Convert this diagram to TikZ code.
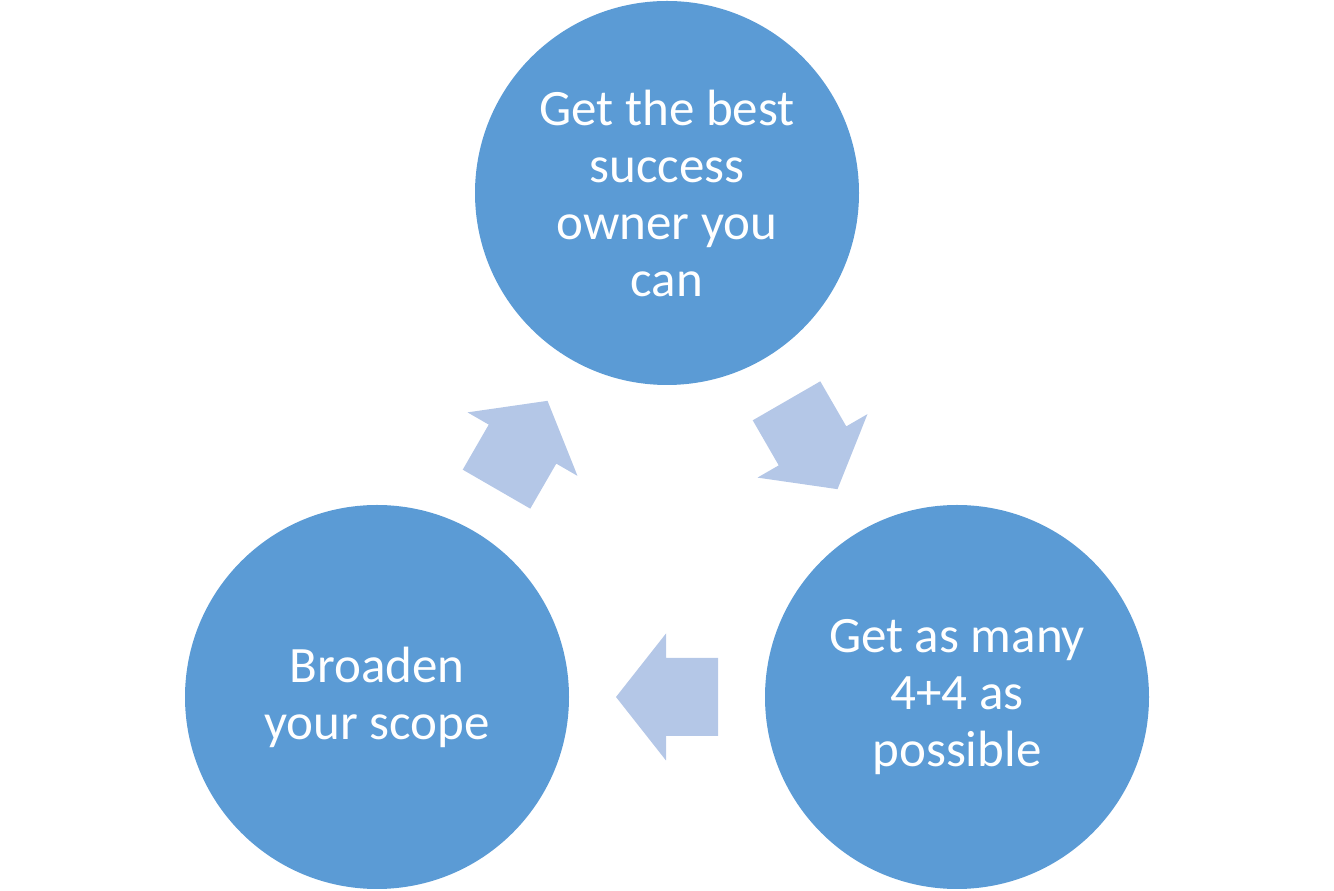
\documentclass[tikz,border=0pt]{standalone}
\usepackage{fontspec}
\setmainfont{Carlito}
\usepackage{tikz}
\usetikzlibrary{calc,
	positioning
}
\definecolor{cyclefill}{HTML}{5B9BD5}
\definecolor{arrowfill}{HTML}{B4C7E7}
\tikzset{Cycle/.style = {
		x=1pt, y=1pt,
		every node/.style = {circle, fill=cyclefill, draw=none, minimum size=384pt,
			inner sep=0pt, text=white, align=center,
			font=\fontsize{51}{57}\selectfont
		},
		cyclearrow/.style = {fill=arrowfill, draw=none}
	}% end of Cycle style
}

\begin{document}
\begin{tikzpicture}[Cycle]
  \useasboundingbox (0,0) rectangle (1334,891);
  \node (Top) at (667,698) {Get the best\\success\\owner you\\can};
  \node (Right) at (957,194) {Get as many\\4+4 as\\possible};
  \node (Left) at (377,194) {Broaden\\your scope};

  \begin{scope}[shift={($(Top)!.5!(Right)$)},rotate=-60]
   \fill[cyclearrow] (-51,-39) -- (1,-39) -- (1,-63.5) -- (51,0) -- (1,63.5) -- (1,39) -- (-51,39) -- cycle;
  \end{scope}

  \begin{scope}[shift={($(Right)!.5!(Left)$)},rotate=180]
   \fill[cyclearrow] (-51,-39) -- (1,-39) -- (1,-63.5) -- (51,0) -- (1,63.5) -- (1,39) -- (-51,39) -- cycle;
  \end{scope}

  \begin{scope}[shift={($(Left)!.5!(Top)$)},rotate=60]
   \fill[cyclearrow] (-51,-39) -- (1,-39) -- (1,-63.5) -- (51,0) -- (1,63.5) -- (1,39) -- (-51,39) -- cycle;
  \end{scope}
\end{tikzpicture}
\end{document}
